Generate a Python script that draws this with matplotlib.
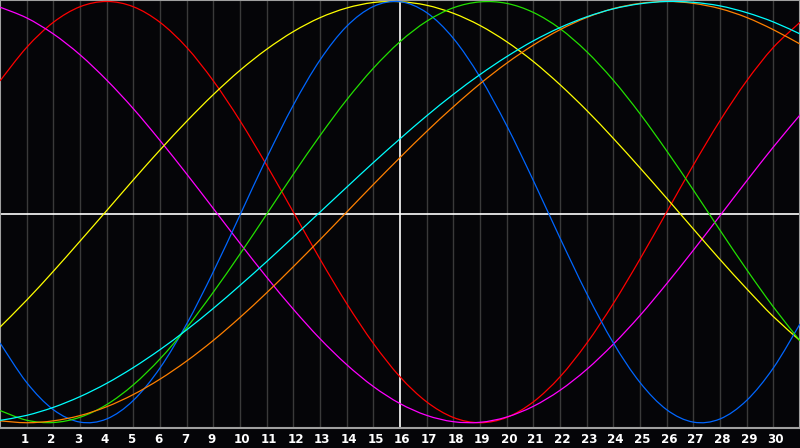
import numpy as np
import matplotlib
matplotlib.use("Agg")
import matplotlib.pyplot as plt
from matplotlib.path import Path
from matplotlib.patches import PathPatch

# days shown on the chart (value per day, in %)
days = np.arange(0, 31)
day_labels = ['1', '2', '3', '4', '5', '6', '7', '9', '10', '11', '12', '13', '14', '15',
              '16', '17', '18', '19', '20', '21', '22', '23', '24', '25', '26', '27', '28',
              '29', '30']

# curves
blue = [-62.1, -80.9, -93.8, -99.7, -98.2, -89.4, -74.0, -53.1, -28.3, -1.4, 25.7,
        50.8, 72.2, 88.2, 97.6, 99.9, 94.7, 82.5, 64.1, 41.1, 15.0, -12.3, -38.6,
        -62.1, -80.9, -93.8, -99.7, -98.2, -89.4, -74.0, -53.1]
red = [62.3, 78.2, 90.1, 97.5, 100.0, 97.5, 90.1, 78.2, 62.3, 43.4, 22.3, 0.0,
       -22.3, -43.4, -62.3, -78.2, -90.1, -97.5, -100.0, -97.5, -90.1, -78.2, -62.3,
       -43.4, -22.3, 0.0, 22.3, 43.4, 62.3, 78.2, 90.1]
green = [-94.2, -98.8, -99.9, -97.4, -91.4, -82.0, -69.7, -54.9, -38.0, -19.9, -1.0,
         18.0, 36.3, 53.3, 68.3, 80.9, 90.6, 97.0, 99.8, 99.1, 94.8, 87.1, 76.2,
         62.6, 46.7, 29.1, 10.5, -8.6, -27.3, -45.0, -61.1]
magenta = [97.3, 92.2, 84.6, 74.7, 62.7, 49.1, 34.0, 18.1, 1.7, -14.8, -30.9, -46.1,
           -60.1, -72.4, -82.8, -90.9, -96.5, -99.5, -99.8, -97.3, -92.2, -84.6,
           -74.7, -62.7, -49.1, -34.0, -18.1, -1.7, 14.8, 30.9, 46.1]
yellow = [-54.6, -41.8, -28.1, -13.8, 0.7, 15.3, 29.5, 43.1, 55.8, 67.3, 77.3, 85.7,
          92.3, 96.9, 99.5, 99.9, 98.2, 94.4, 88.6, 80.9, 71.5, 60.5, 48.3, 35.0,
          21.0, 6.6, -8.0, -22.5, -36.4, -49.6, -61.0]
orange = [-99.1, -100.0, -99.1, -96.6, -92.4, -86.6, -79.3, -70.7, -60.9, -50.0,
          -38.3, -25.9, -13.1, 0.0, 13.1, 25.9, 38.3, 50.0, 60.9, 70.7, 79.3, 86.6,
          92.4, 96.6, 99.1, 100.0, 99.1, 96.6, 92.4, 86.6, 79.8]
cyan = [-98.9, -96.5, -92.7, -87.6, -81.3, -73.8, -65.3, -55.9, -45.7, -34.8, -23.5,
        -11.8, 0.0, 11.8, 23.5, 34.8, 45.7, 55.9, 65.3, 73.8, 81.3, 87.6, 92.7, 96.5,
        98.9, 100.0, 99.6, 97.9, 94.7, 90.3, 84.6]


def smooth_line(ax, x, y, color, lw):
    # curve through the daily points (Catmull-Rom drawn as bezier segments)
    p = np.column_stack([x, y]).astype(float)
    p = np.vstack([p[0], p, p[-1]])
    verts = [p[1]]
    codes = [Path.MOVETO]
    for i in range(1, len(p) - 2):
        c1 = p[i] + (p[i + 1] - p[i - 1]) / 6
        c2 = p[i + 1] - (p[i + 2] - p[i]) / 6
        verts += [c1, c2, p[i + 1]]
        codes += [Path.CURVE4] * 3
    ax.add_patch(PathPatch(Path(verts, codes), fill=False, edgecolor=color,
                           lw=lw, zorder=3))


bg = '#050508'
fig = plt.figure(figsize=(8, 4.48), dpi=100, facecolor=bg)
ax = fig.add_axes([0, 20 / 448, 1, 428 / 448])
ax.set_facecolor(bg)

# grid: one line per day, white centre lines
for d in range(1, 30):
    if d != 15:
        ax.axvline(d, color='#3a3a3a', lw=1.0, zorder=1)
ax.axvline(15, color='white', lw=1.2, zorder=2)
ax.axhline(-0.9, color='white', lw=1.2, zorder=2)

lw = 0.9
smooth_line(ax, days, red, '#ff0000', lw)
smooth_line(ax, days, magenta, '#ff00ff', lw)
smooth_line(ax, days, yellow, '#ffff00', lw)
smooth_line(ax, days, blue, '#0066ff', lw)
smooth_line(ax, days, green, '#22e000', lw)
smooth_line(ax, days, orange, '#ff8000', lw)
smooth_line(ax, days, cyan, '#00ffff', lw)

ax.set_xlim(0, 30)
ax.set_ylim(-102.5, 100.7)
ax.set_xticks([])
ax.set_yticks([])
for s in ax.spines.values():
    s.set_color('#a0a0a0')
    s.set_linewidth(1.5)

# day labels under the plot
for i, lab in enumerate(day_labels):
    ax.text(i + 0.78, -0.026, lab, transform=ax.get_xaxis_transform(),
            ha='left', va='center', color='white', fontsize=8.6,
            fontweight='bold', family='DejaVu Sans')

fig.savefig('out.png', dpi=100, facecolor=bg)
